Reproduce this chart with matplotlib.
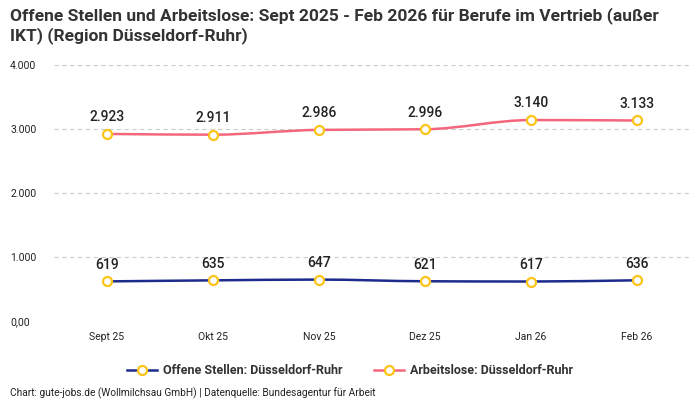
import matplotlib
matplotlib.use('Agg')
import matplotlib.pyplot as plt
from matplotlib.path import Path
from matplotlib.patches import PathPatch
from matplotlib.lines import Line2D
import numpy as np

months = ['Sept 25', 'Okt 25', 'Nov 25', 'Dez 25', 'Jan 26', 'Feb 26']
offene = [619, 635, 647, 621, 617, 636]
arbeitslose = [2923, 2911, 2986, 2996, 3140, 3133]
yticks = [0, 1000, 2000, 3000, 4000]
ytick_labels = ['0,00', '1.000', '2.000', '3.000', '4.000']

NAVY = '#1c2b8c'
PINK = '#f4667c'
YEL = '#fcc419'
TXT = '#222222'
GRID = '#cccccc'

plt.rcParams['font.family'] = ['Roboto', 'DejaVu Sans']


def fmt(v):
    return f'{v:,}'.replace(',', '.')


def smooth_path(xs, ys):
    # monotone cubic (Fritsch-Carlson) as bezier segments
    xs = np.asarray(xs, float); ys = np.asarray(ys, float)
    h = np.diff(xs); d = np.diff(ys) / h
    m = np.zeros_like(ys)
    m[0], m[-1] = d[0], d[-1]
    for i in range(1, len(ys) - 1):
        if d[i - 1] * d[i] <= 0:
            m[i] = 0
        else:
            m[i] = 2 / (1 / d[i - 1] + 1 / d[i])
    verts = [(xs[0], ys[0])]
    codes = [Path.MOVETO]
    for i in range(len(xs) - 1):
        verts += [(xs[i] + h[i] / 3, ys[i] + m[i] * h[i] / 3),
                  (xs[i + 1] - h[i] / 3, ys[i + 1] - m[i + 1] * h[i] / 3),
                  (xs[i + 1], ys[i + 1])]
        codes += [Path.CURVE4] * 3
    return Path(verts, codes)


fig = plt.figure(figsize=(7, 4), dpi=100, facecolor='white')
ax = fig.add_axes([54 / 700, 79 / 400, 636 / 700, 256 / 400])

mk = dict(marker='o', ms=6.5, mfc='white', mec=YEL, mew=1.6)

x = np.arange(len(months))
for vals, col in [(offene, NAVY), (arbeitslose, PINK)]:
    ax.add_patch(PathPatch(smooth_path(x, vals), facecolor='none', edgecolor=col,
                           lw=1.8, zorder=3, clip_on=False))
    ax.plot(x, vals, ls='none', zorder=4, clip_on=False, **mk)
    for xi, v in zip(x, vals):
        ax.annotate(fmt(v), (xi, v), xytext=(0, 7), textcoords='offset points',
                    ha='center', va='bottom', fontsize=10, color=TXT, fontweight='medium')

ax.set_xlim(-0.5, len(months) - 0.5)
ax.set_ylim(0, 4000)
ax.set_xticks(x)
ax.set_xticklabels(months, fontsize=7.5, color=TXT)
ax.set_yticks(yticks)
ax.set_yticklabels(ytick_labels, fontsize=7.5, color=TXT, ha='left')
ax.tick_params(axis='y', length=0, pad=31.5)
ax.tick_params(axis='x', length=0, pad=8)
ax.grid(axis='y', color=GRID, ls=(0, (4, 3)), lw=0.8)
ax.set_axisbelow(True)
for s in ax.spines.values():
    s.set_visible(False)

handles = [Line2D([0], [0], color=NAVY, lw=1.8, **mk),
           Line2D([0], [0], color=PINK, lw=1.8, **mk)]
leg = fig.legend(handles, ['Offene Stellen: Düsseldorf-Ruhr', 'Arbeitslose: Düsseldorf-Ruhr'],
                 loc='center', bbox_to_anchor=(0.5, 1 - 371 / 400), ncol=2, frameon=False,
                 handlelength=2.4, columnspacing=2.5, handletextpad=0.5,
                 prop={'size': 9, 'weight': 'bold'})
for t in leg.get_texts():
    t.set_color('#333333')

fig.text(10 / 700, 1 - 7 / 400,
         'Offene Stellen und Arbeitslose: Sept 2025 - Feb 2026 für Berufe im Vertrieb (außer\nIKT) (Region Düsseldorf-Ruhr)',
         ha='left', va='top', fontsize=12.5, fontweight='bold', color='#333333', linespacing=1.2)
fig.text(10 / 700, 1 - 393 / 400,
         'Chart: gute-jobs.de (Wollmilchsau GmbH) | Datenquelle: Bundesagentur für Arbeit',
         ha='left', va='center', fontsize=7.3, color=TXT)

fig.savefig('out.png', dpi=100, facecolor='white')
